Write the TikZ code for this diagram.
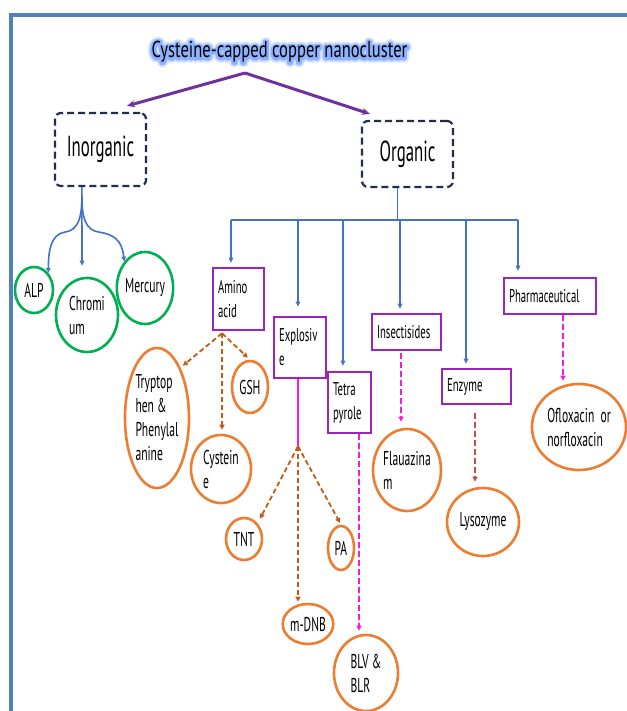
\documentclass[tikz,border=0pt]{standalone}
\usepackage{fontspec}
\setmainfont{PT Sans}[FakeStretch=0.58]
\newfontfamily\titlefam{PT Sans}[FakeStretch=0.72]
\usetikzlibrary{shapes.geometric,arrows.meta,calc}
\definecolor{frameblue}{RGB}{79,129,189}
\definecolor{catnavy}{RGB}{31,45,80}
\definecolor{conblue}{RGB}{68,114,196}
\definecolor{arrpurple}{RGB}{112,48,160}
\definecolor{boxpurple}{RGB}{155,35,190}
\definecolor{circgreen}{RGB}{0,176,80}
\definecolor{circorange}{RGB}{237,125,49}
\definecolor{brdash}{RGB}{197,90,17}
\definecolor{magdash}{RGB}{240,30,220}
\definecolor{enzdash}{RGB}{192,80,77}
\newcommand\glowlayer[3]{\special{pdf:literal direct 1 Tr 1 j #1 w #2 RG}#3\special{pdf:literal direct 0 Tr 0 G}}
\newcommand\glowtitle[1]{\rlap{\glowlayer{9}{0.82 0.88 1}{#1}}\rlap{\glowlayer{5}{0.56 0.70 1}{#1}}#1}
\tikzset{
 frame/.style={draw=frameblue,line width=4pt},
 cat/.style={draw=catnavy,line width=2.2pt,dash pattern=on 7pt off 4pt,rounded corners=6pt,font=\fontsize{29}{34}\selectfont,inner sep=0pt},
 pbox/.style={draw=boxpurple,line width=2.6pt,font=\fontsize{18.5}{24}\selectfont,align=left,inner xsep=5pt,inner ysep=0pt},
 gc/.style={ellipse,draw=circgreen,line width=2.6pt,inner sep=0pt,font=\fontsize{20}{24}\selectfont,align=left},
 oc/.style={ellipse,draw=circorange,line width=2.6pt,inner sep=0pt,font=\fontsize{20}{24}\selectfont,align=left},
 barr/.style={draw=conblue,line width=1.6pt,-{Triangle[length=5pt,width=4.5pt]}},
 parr/.style={draw=arrpurple,line width=3pt,-{Stealth[length=8pt,width=7pt]}},
 brarr/.style={draw=brdash,line width=1.8pt,dash pattern=on 5pt off 3pt,-{Triangle[length=5pt,width=5pt]}},
 mgarr/.style={draw=magdash,line width=1.5pt,dash pattern=on 6pt off 3pt,-{Triangle[length=5pt,width=5pt]}},
 enzarr/.style={draw=enzdash,line width=1.6pt,dash pattern=on 6pt off 3pt,-{Triangle[length=5pt,width=5pt]}},
 titlefont/.style={font=\titlefam\fontsize{23}{28}\selectfont,inner sep=2pt},
}
\begin{document}
\begin{tikzpicture}[x=1pt,y=-1pt]
\useasboundingbox (0,0) rectangle (626,711);
\fill[white] (0,0) rectangle (626,711);
\draw[frame] (11,730) -- (11,15) -- (650,15);

% title (with blue glow) and categories
\node[titlefont,anchor=base] (title) at (279.5,58) {\glowtitle{Cysteine-capped copper nanocluster}};
\node[cat,minimum width=91pt,minimum height=73pt] (inorg) at (100.5,149.5) {Inorganic};
\node[cat,minimum width=91pt,minimum height=66pt] (org) at (407.5,154) {Organic};

% boxes
\node[pbox,text width=41pt,minimum height=62pt] (amino) at (238.5,299) {Amino\\acid};
\node[pbox,text width=42pt,minimum height=61pt] (expl) at (300,347.5) {Explosiv\\e};
\node[pbox,text width=33pt,minimum height=61pt] (tetra) at (349.5,402.5) {Tetra\\pyrole};
\node[pbox,text width=59pt,minimum height=36pt] (insect) at (406.5,332) {Insectisides};
\node[pbox,text width=59pt,minimum height=35pt] (enz) at (476.5,386.5) {Enzyme};
\node[pbox,text width=82pt,minimum height=36pt] (pharm) at (550,296) {Pharmaceutical};

% circles
\node[gc,minimum width=38pt,minimum height=46pt] (alp) at (34,290) {ALP};
\node[gc,minimum width=62pt,minimum height=74pt] (chrom) at (87,315) {Chromi\\um};
\node[gc,minimum width=54pt,minimum height=72pt] (merc) at (145,288) {Mercury};
\node[oc,minimum width=64pt,minimum height=140pt] (tryp) at (157,418) {Tryptop\\hen \&\\Phenylal\\anine};
\node[oc,minimum width=36pt,minimum height=52pt] (gsh) at (250,387) {GSH};
\node[oc,minimum width=60pt,minimum height=68pt] (cyst) at (221,469) {Cystein\\e};
\node[oc,minimum width=36pt,minimum height=42pt] (tnt) at (244,539) {TNT};
\node[oc,minimum width=26pt,minimum height=44pt] (pa) at (341,548) {PA};
\node[oc,minimum width=50pt,minimum height=40pt] (mdnb) at (308,624) {m-DNB};
\node[oc,minimum width=64pt,minimum height=76pt] (blv) at (366,673) {BLV \&\\BLR};
\node[oc,minimum width=68pt,minimum height=82pt] (flau) at (407,470) {Flauazina\\m};
\node[oc,minimum width=72pt,minimum height=68pt] (lyso) at (483,522) {Lysozyme};
\node[oc,minimum width=94pt,minimum height=86pt] (oflox) at (579,427) {Ofloxacin\ \ or\\norfloxacin};

% title arrows
\coordinate (tj) at ($(title.base)+(-34.5,15)$);
\draw[parr] (tj) -- ($(inorg.north)+(26.5,-6)$);
\draw[parr] (tj) -- ($(org.north west)+(9,-6)$);

% inorganic bracket
\coordinate (ist) at ($(inorg.south west)+(28,0)$);
\coordinate (chtip) at ($(chrom.north)+(-5,-11)$);
\draw[barr] (ist) -- (chtip);
\draw[barr] ($(ist)+(0,8)$) .. controls ($(ist)+(0,32)$) and ($(ist)+(-4,43)$) .. ($(ist)+(-17,45)$) .. controls ($(ist)+(-31,47)$) and ($(alp.north east)+(0,-22)$) .. (alp.north east);
\draw[barr] ($(ist)+(0,8)$) .. controls ($(ist)+(0,32)$) and ($(ist)+(4,43)$) .. ($(ist)+(17,45)$) .. controls ($(ist)+(31,47)$) and ($(merc.north west)+(-2,-22)$) .. (merc.north west);

% organic bar
\coordinate (ost) at ($(org.south)+(-10,0)$);
\coordinate (bar) at ($(ost)+(0,32)$);
\coordinate (b1) at ($(bar)+(-166.5,0)$);
\coordinate (b2) at ($(bar)+(-99.5,0)$);
\coordinate (b3) at ($(bar)+(-54.5,0)$);
\coordinate (b4) at ($(bar)+(2.5,0)$);
\coordinate (b5) at ($(bar)+(68.5,0)$);
\coordinate (b6) at ($(bar)+(120.5,0)$);
\draw[conblue,line width=1.6pt] (ost) -- (bar);
\draw[conblue,line width=2.8pt] (b1) -- (b6);
\draw[barr,shorten >=4pt] (b1) -- (b1 |- amino.north);
\draw[barr,shorten >=9pt] (b2) -- (b2 |- expl.north);
\draw[barr,shorten >=5pt] (b3) -- (b3 |- tetra.north);
\draw[barr,shorten >=4pt] (b4) -- (b4 |- insect.north);
\draw[barr,shorten >=4pt] (b5) -- (b5 |- enz.north);
\draw[barr,shorten >=6pt] (b6) -- (b6 |- pharm.north);

% amino acid children
\coordinate (as) at ($(amino.south)+(-16.5,2)$);
\draw[brarr,shorten >=3pt] (as) -- (tryp.north east);
\draw[brarr,shorten >=4pt] (as) -- (as |- cyst.north);
\draw[brarr,shorten >=3pt] (as) -- (gsh.north);

% explosive children
\coordinate (es) at ($(expl.south)+(-2,0)$);
\coordinate (ej) at ($(es)+(0,67)$);
\draw[magdash,line width=1.6pt] (es) -- (ej);
\draw[brarr,shorten >=5pt] (ej) -- (tnt.north east);
\draw[brarr,shorten >=1pt] (ej) -- (ej |- mdnb.north);
\draw[brarr,shorten >=2pt] (ej) -- (pa.north);

% other children
\coordinate (ts) at ($(tetra.south)+(9.5,0)$);
\draw[mgarr,shorten >=3pt] (ts) -- (ts |- blv.north);
\coordinate (is) at ($(insect.south)+(-5.5,2)$);
\draw[mgarr,shorten >=6pt] (is) -- (is |- flau.north);
\coordinate (zs) at ($(enz.south)+(-1.5,8)$);
\draw[enzarr,shorten >=5pt] (zs) -- (zs |- lyso.north);
\coordinate (ps) at ($(pharm.south)+(13,0)$);
\draw[mgarr,shorten >=2pt] (ps) -- (ps |- oflox.north);
\end{tikzpicture}
\end{document}
